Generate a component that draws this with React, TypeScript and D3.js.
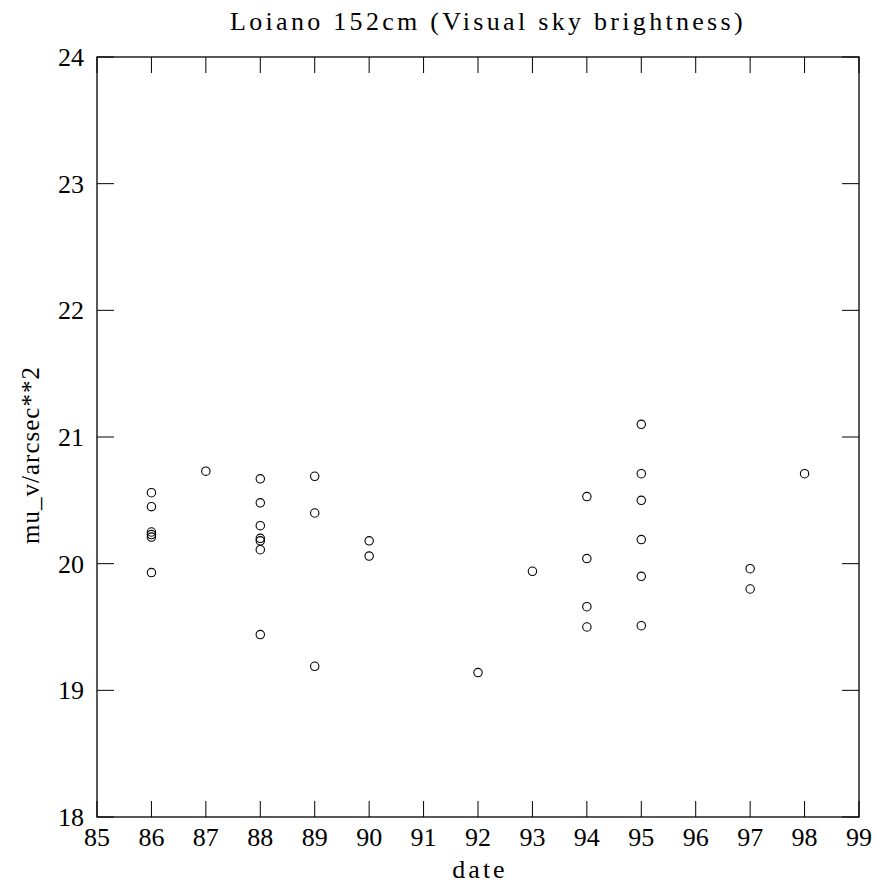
import React from 'react'
import * as d3 from 'd3'

// observations per year (date) and sky brightness (mag / arcsec^2)
const years = [86, 86, 86, 86, 86, 86, 87, 88, 88, 88, 88, 88, 88, 88, 89, 89, 89, 90, 90, 92, 93, 94, 94, 94, 94, 95, 95, 95, 95, 95, 95, 97, 97, 98]
const brightness = [20.56, 20.45, 20.25, 20.23, 20.21, 19.93, 20.73, 20.67, 20.48, 20.30, 20.20, 20.18, 20.11, 19.44, 20.69, 20.40, 19.19, 20.18, 20.06, 19.14, 19.94, 20.53, 20.04, 19.66, 19.50, 21.10, 20.71, 20.50, 20.19, 19.90, 19.51, 19.96, 19.80, 20.71]
const xTicks = d3.range(85, 100)
const yTicks = d3.range(18, 25)

const title = 'Loiano 152cm (Visual sky brightness)'
const xLabel = 'date'
const yLabel = 'mu_v/arcsec**2'

export default function App() {
    const width = 877
    const height = 887
    const left = 97, right = 859, top = 57, bottom = 817
    const tick = 16
    const font = '"Liberation Serif", serif'

    const x = d3.scaleLinear().domain([85, 99]).range([left, right])
    const y = d3.scaleLinear().domain([18, 24]).range([bottom, top])

    return (
        <svg width={width} height={height} style={{ position: 'absolute', left: 0, top: 0, background: '#fff' }}>
            <rect x={left} y={top} width={right - left} height={bottom - top} fill='none' stroke='#000' strokeWidth={1.3} />

            {xTicks.map(t => (
                <g key={'x' + t}>
                    <line x1={x(t)} x2={x(t)} y1={bottom} y2={bottom - tick} stroke='#000' />
                    <line x1={x(t)} x2={x(t)} y1={top} y2={top + tick} stroke='#000' />
                    <text x={x(t)} y={846} textAnchor='middle' fontFamily={font} fontSize={26}>{t}</text>
                </g>
            ))}

            {yTicks.map(t => (
                <g key={'y' + t}>
                    <line x1={left} x2={left + tick + 1} y1={y(t)} y2={y(t)} stroke='#000' />
                    <line x1={right} x2={right - tick - 1} y1={y(t)} y2={y(t)} stroke='#000' />
                    <text x={84} y={y(t) + 9} textAnchor='end' fontFamily={font} fontSize={26}>{t}</text>
                </g>
            ))}

            {years.map((yr, i) => (
                <circle key={i} cx={x(yr)} cy={y(brightness[i])} r={4.2} fill='none' stroke='#000' strokeWidth={1.1} />
            ))}

            <text x={488} y={30} textAnchor='middle' fontFamily={font} fontSize={26} letterSpacing={3.3}>{title}</text>
            <text x={480} y={878} textAnchor='middle' fontFamily={font} fontSize={26} letterSpacing={3}>{xLabel}</text>
            <text transform={`translate(39, 455) rotate(-90)`} textAnchor='middle' fontFamily={font} fontSize={25} letterSpacing={1}>{yLabel}</text>
        </svg>
    )
}
